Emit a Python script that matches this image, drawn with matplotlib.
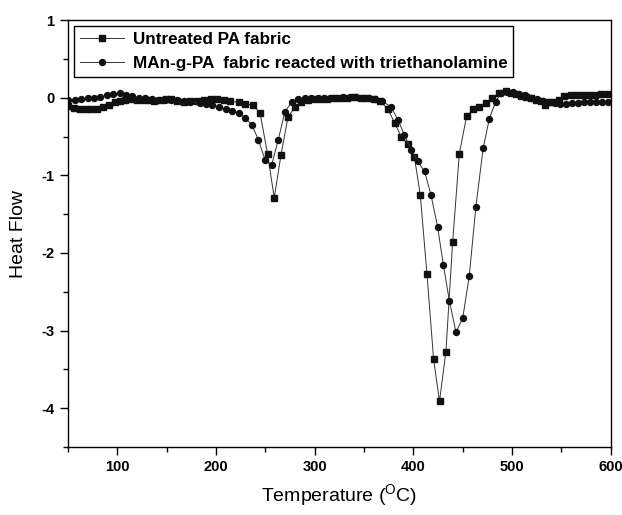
import numpy as np
import matplotlib
matplotlib.use('Agg')
import matplotlib.pyplot as plt
from matplotlib.ticker import MultipleLocator

plt.rcParams['font.family'] = ['Liberation Sans', 'DejaVu Sans']
plt.rcParams['axes.unicode_minus'] = False

# Untreated PA fabric (squares)
t_untreated = [50.6, 56.6, 62.3, 68, 74, 80, 85.7, 91.5, 97.5, 102.5, 107.5, 114, 120, 126,
               132.6, 137.6, 144.4, 149.4, 154.4, 161, 167.8, 173.8, 181, 187.8, 194.6, 201.3,
               208, 214.7, 223, 229.7, 238, 244.8, 252.4, 259.1, 265.9, 273, 280, 286.5, 293,
               300, 306.5, 313, 320, 326.5, 333, 340, 346.5, 353, 360, 366.5, 374.3, 381.3,
               387.6, 394.7, 401, 407, 413.8, 420.5, 426.5, 433, 439.8, 446.6, 453.9, 460.6,
               467, 473.3, 480, 486.7, 493.4, 499, 504, 509, 514, 519, 524, 529, 533, 537, 542,
               547.6, 552.6, 559.3, 566, 571.7, 577.7, 583.7, 590.5, 597]
hf_untreated = [-0.11, -0.13, -0.14, -0.15, -0.15, -0.14, -0.12, -0.09, -0.06, -0.04, -0.03,
                -0.02, -0.03, -0.03, -0.03, -0.04, -0.03, -0.02, -0.02, -0.04, -0.05, -0.045,
                -0.045, -0.03, -0.02, -0.02, -0.03, -0.045, -0.06, -0.075, -0.10, -0.20, -0.73,
                -1.29, -0.74, -0.25, -0.12, -0.05, -0.03, -0.02, -0.02, -0.02, -0.01, -0.01,
                0.0, 0.01, 0.0, -0.01, -0.02, -0.04, -0.15, -0.33, -0.50, -0.60, -0.76, -1.25,
                -2.27, -3.37, -3.91, -3.27, -1.86, -0.72, -0.24, -0.15, -0.12, -0.07, 0.0,
                0.055, 0.08, 0.055, 0.045, 0.02, 0.01, -0.01, -0.03, -0.04, -0.09, -0.05,
                -0.06, -0.03, 0.025, 0.04, 0.035, 0.04, 0.035, 0.035, 0.045, 0.05]

# MAn-g-PA fabric reacted with triethanolamine (circles)
t_treated = [50.6, 57, 63.5, 70, 76.5, 83, 89.5, 96, 102.5, 109, 115.5, 122, 128.5, 135,
             141.5, 148, 154.5, 161, 167.5, 174, 183.5, 190, 196.5, 203, 209.8, 216.5, 223.2,
             229.7, 236.3, 243, 249.8, 256.4, 263.2, 269.9, 276.6, 283.2, 290, 296.5, 303,
             309.5, 316, 322.5, 329, 335.5, 342, 348.5, 355, 361.5, 368, 377.6, 384.6, 391,
             397.7, 404.4, 411.4, 417.8, 424.5, 430.5, 436.5, 443.2, 450, 456.6, 463.3, 470.7,
             477, 483.3, 489, 495, 501, 507, 513, 519, 525, 531, 537, 543, 549, 555, 561, 567,
             573, 579, 585, 591, 597]
hf_treated = [-0.03, -0.03, -0.02, -0.01, 0.0, 0.01, 0.03, 0.05, 0.06, 0.04, 0.02, 0.0,
              -0.01, -0.02, -0.03, -0.03, -0.03, -0.035, -0.04, -0.05, -0.07, -0.08, -0.10,
              -0.12, -0.15, -0.17, -0.20, -0.26, -0.35, -0.54, -0.80, -0.87, -0.54, -0.18,
              -0.06, -0.02, -0.01, -0.01, -0.01, 0.0, 0.0, 0.0, 0.005, 0.01, 0.01, 0.0, -0.01,
              -0.02, -0.04, -0.12, -0.29, -0.48, -0.67, -0.82, -0.95, -1.25, -1.66, -2.16,
              -2.62, -3.02, -2.84, -2.30, -1.41, -0.65, -0.27, -0.05, 0.065, 0.075, 0.07,
              0.05, 0.03, 0.0, -0.02, -0.04, -0.06, -0.07, -0.08, -0.08, -0.07, -0.07, -0.06,
              -0.06, -0.06, -0.06, -0.06]

labels = ['Untreated PA fabric', 'MAn-g-PA  fabric reacted with triethanolamine']

fig = plt.figure(figsize=(6.22, 5.15), dpi=100)
ax = fig.add_axes([0.109, 0.132, 0.873, 0.829])

ax.plot(t_untreated, hf_untreated, color='#333333', lw=0.7, marker='s', ms=4,
        mfc='#111111', mec='#111111', label=labels[0])
ax.plot(t_treated, hf_treated, color='#333333', lw=0.7, marker='o', ms=4.3,
        mfc='#111111', mec='#111111', label=labels[1])

ax.set_xlim(50, 600)
ax.set_ylim(-4.5, 1)
ax.xaxis.set_major_locator(MultipleLocator(100))
ax.xaxis.set_minor_locator(MultipleLocator(50))
ax.yaxis.set_major_locator(MultipleLocator(1))
ax.yaxis.set_minor_locator(MultipleLocator(0.5))
ax.tick_params(which='major', direction='out', length=6, width=1, labelsize=10.5)
ax.tick_params(which='minor', direction='out', length=3.5, width=1)
for lab in ax.get_xticklabels() + ax.get_yticklabels():
    lab.set_fontweight('bold')
for s in ax.spines.values():
    s.set_linewidth(1)

ax.set_xlabel('Temperature ($^\\mathregular{O}$C)', fontsize=14, labelpad=6)
ax.set_ylabel('Heat Flow', fontsize=14, labelpad=10)

leg = ax.legend(loc='upper left', fancybox=False, edgecolor='black', framealpha=1,
                prop={'weight': 'bold', 'size': 12.3}, handlelength=2.6, handletextpad=0.5,
                borderaxespad=0.35, labelspacing=0.5, borderpad=0.35)
leg.get_frame().set_linewidth(1)

fig.savefig('out.png', dpi=100)
